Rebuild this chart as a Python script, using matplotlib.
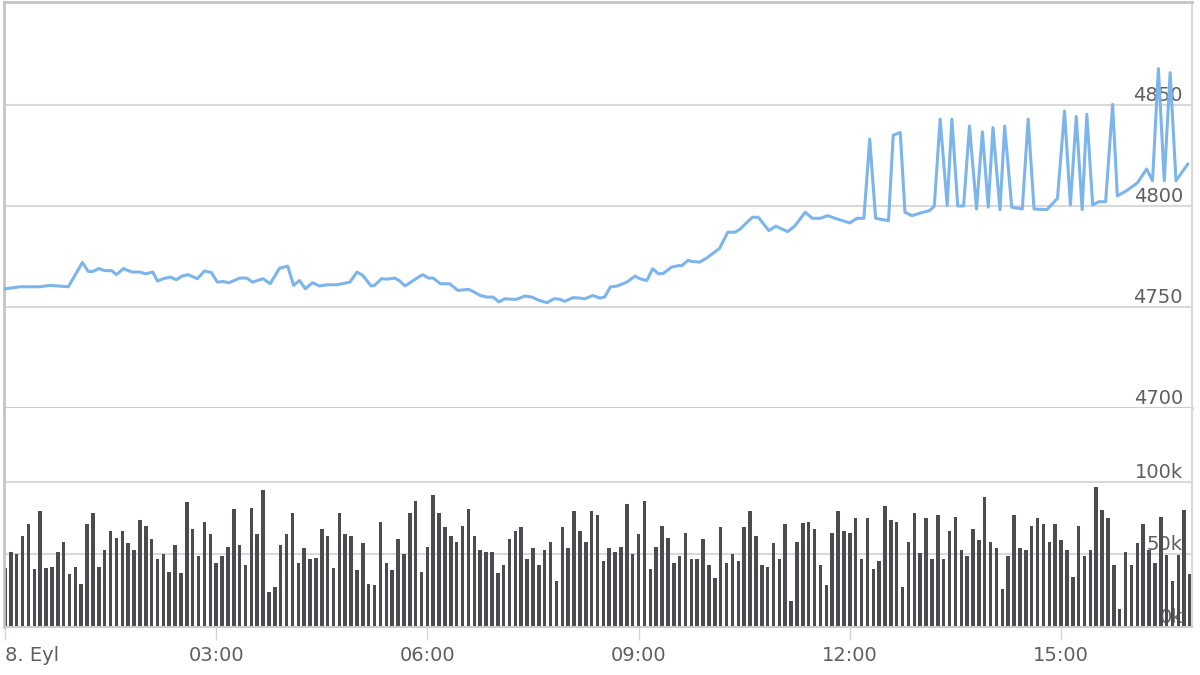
import numpy as np
import matplotlib.pyplot as plt

# price line: minutes after midnight and price
price_t = [0, 13, 30, 38, 54, 66, 71, 75, 80, 85,
           91, 95, 101, 108, 115, 120, 126, 130, 135, 141,
           146, 151, 156, 164, 170, 176, 181, 186, 191, 200,
           206, 211, 220, 226, 234, 241, 246, 251, 256, 262,
           268, 275, 283, 294, 300, 305, 312, 315, 321, 326,
           332, 336, 341, 348, 356, 361, 365, 371, 379, 386,
           395, 399, 405, 411, 416, 421, 426, 432, 436, 443,
           449, 455, 462, 468, 473, 477, 484, 490, 494, 501,
           507, 511, 516, 522, 530, 537, 541, 547, 552, 557,
           561, 568, 574, 577, 582, 586, 592, 598, 604, 609,
           616, 622, 626, 637, 642, 651, 657, 667, 673, 682,
           688, 695, 701, 709, 720, 726, 732, 737, 742, 753,
           757, 763, 767, 773, 780, 788, 792, 797, 803, 807,
           812, 817, 822, 828, 833, 838, 842, 848, 852, 858,
           867, 872, 877, 888, 897, 903, 908, 913, 918, 922,
           927, 932, 938, 944, 948, 956, 965, 973, 978, 983,
           988, 993, 998, 1008]
price_v = [4759, 4760, 4760, 4760.7, 4760, 4772, 4767.6, 4767.6, 4769, 4768,
           4768, 4766, 4769, 4767.3, 4767.3, 4766.4, 4767.3, 4762.8, 4764, 4764.8,
           4763.5, 4765.3, 4766, 4764, 4767.8, 4767, 4762.3, 4762.6, 4762, 4764.3,
           4764.3, 4762.3, 4764, 4761.5, 4769.2, 4770.2, 4760.7, 4763.1, 4759, 4762,
           4760.4, 4761, 4761, 4762.3, 4767.3, 4765.6, 4760.4, 4760.7, 4764, 4763.8,
           4764.3, 4763.1, 4760.4, 4763.1, 4766, 4764.3, 4764.3, 4761.5, 4761.5, 4758.2,
           4758.7, 4757.7, 4755.7, 4754.9, 4754.9, 4752.5, 4754.1, 4753.8, 4753.8, 4755.4,
           4754.9, 4753.3, 4752.1, 4754.1, 4753.8, 4752.8, 4754.6, 4754.4, 4754, 4755.7,
           4754.4, 4754.9, 4759.9, 4760.4, 4762.3, 4765.3, 4764, 4763.1, 4768.9, 4766.4,
           4766.6, 4769.7, 4770.5, 4770.5, 4773, 4772.5, 4772.2, 4774.2, 4776.8, 4779,
           4787, 4787, 4788.3, 4794.4, 4794.4, 4787.8, 4790, 4787.3, 4790, 4796.9,
           4793.9, 4793.9, 4795.2, 4793.6, 4791.6, 4793.9, 4793.9, 4833.1, 4793.9, 4792.7,
           4835, 4836.4, 4796.9, 4795.2, 4796.5, 4797.7, 4799.9, 4843, 4800.2, 4843,
           4800, 4800, 4839.6, 4798.5, 4836.7, 4799.4, 4838.8, 4798.2, 4839.6, 4799.4,
           4798.5, 4843, 4798.5, 4798.2, 4803.8, 4847, 4800.5, 4844.3, 4798.2, 4845.4,
           4800.5, 4802.1, 4802.1, 4850.3, 4805, 4807.6, 4811.4, 4818.3, 4812.5, 4868,
           4812.5, 4866, 4812.5, 4820.7]

# 5-minute volume (thousands)
volume_k = [40.5, 51.9, 50.3, 62.8, 71, 39.8, 80, 40.9, 41.6, 51.9,
            58.9, 36.6, 41.6, 29.7, 71, 78.9, 41.6, 53.1, 66.4, 61.2,
            66.4, 57.7, 53.1, 73.8, 69.7, 60.5, 46.7, 50.3, 38.2, 56.6,
            37, 86, 67.4, 49, 72.2, 64.1, 44.4, 49, 55.4, 81.2,
            56.6, 42.8, 82.3, 64.1, 94.5, 24.4, 27.4, 56.6, 64.1, 78.9,
            44.4, 54.3, 46.7, 47.8, 67.4, 62.8, 40.5, 78.9, 64.1, 62.8,
            39.3, 57.7, 29.7, 29, 72.2, 44.4, 39.3, 60.5,
            50.3, 78.9, 87.1, 38.2, 55.4, 91, 78.9, 68.7, 62.8, 58.9,
            69.7, 81.2, 62.8, 53.1, 51.9, 51.9, 37, 42.8, 60.5, 66.4,
            68.7, 46.7, 54.3, 42.8, 53.1, 58.9, 32, 68.7, 54.3, 80,
            66.4, 58.9, 80, 77.2, 45.7, 54.3, 51.9, 54.9, 84.8, 50.3,
            64.1, 87.1, 39.8, 55.4, 69.7, 61.2, 44.4, 49, 65.1, 46.7,
            46.7, 60.5, 42.8, 33.6, 68.7, 44.4, 50.3, 45.7, 68.7, 80,
            62.8, 42.8, 41.1, 57.7, 46.7, 71, 18.2, 58.9, 72,
            72.6, 67.4, 42.8, 29, 65.1, 80, 66.4, 65.1, 74.9, 46.7,
            74.9, 39.8, 45.7, 83.4, 73.8, 72.6, 27.4, 58.9, 78.9, 50.8,
            74.9, 46.7, 77.2, 46.7, 66.4, 76.1, 53.1, 49, 67.4, 60,
            89.9, 58.9, 54.3, 26, 49, 77.2, 54.3, 53.1, 69.7, 74.9,
            71, 58.9, 71, 60, 53.1, 34.3, 69.7, 49, 53.1, 96.8,
            80.7, 74.9, 42.8, 12.2, 51.9, 42.8, 57.7, 71, 53.1, 44.4,
            76.1, 49.7, 32, 49.7, 80.7, 36.6]

tick_hours = [0, 3, 6, 9, 12, 15]
tick_labels = ['8. Eyl', '03:00', '06:00', '09:00', '12:00', '15:00']
price_ticks = [4700, 4750, 4800, 4850]
volume_ticks = [0, 50, 100]
volume_labels = ['0k', '50k', '100k']

text_col = '#5f5f5f'
grid_col = '#d9d9d9'

fig = plt.figure(figsize=(12, 6.75), dpi=100)
ax1 = fig.add_axes([0.0033, 0.3956, 0.99, 0.6015])
ax2 = fig.add_axes([0.0033, 0.0711, 0.99, 0.3245], sharex=ax1)

# price pane
ax1.plot(np.array(price_t) / 60, price_v, color='#7cb5ec', lw=2.2,
         solid_joinstyle='round', zorder=3)
ax1.set_ylim(4700, 4901)
ax1.set_yticks(price_ticks)

# volume pane
bar_x = np.arange(len(volume_k)) * 5 / 60
ax2.bar(bar_x, volume_k, width=3.0 / 60, color='#4b4b51', zorder=2)
ax2.set_ylim(0, 151)
ax2.set_yticks(volume_ticks, volume_labels)

ax2.set_xlim(-0.014, 16.86)
ax2.set_xticks(tick_hours, tick_labels)

for ax in (ax1, ax2):
    ax.set_axisbelow(True)
    ax.grid(axis='y', color=grid_col, lw=1.5)
    ax.yaxis.tick_right()
    ax.tick_params(axis='y', length=0, pad=-6.5, labelsize=14,
                   labelcolor=text_col)
    for lab in ax.get_yticklabels():
        lab.set_ha('right')
        lab.set_va('bottom')
    ax.spines['left'].set_color('#c4c4c4')
    ax.spines['left'].set_linewidth(2)
    ax.spines['right'].set_color(grid_col)
    ax.spines['right'].set_linewidth(1.5)

ax1.spines['top'].set_color('#c4c4c4')
ax1.spines['top'].set_linewidth(2)
ax1.spines['bottom'].set_color('#cccccc')
ax1.spines['bottom'].set_linewidth(2)
ax1.tick_params(axis='x', bottom=False, labelbottom=False)

ax2.spines['top'].set_visible(False)
ax2.spines['bottom'].set_color('#cccccc')
ax2.spines['bottom'].set_linewidth(1.5)
ax2.tick_params(axis='x', length=9, width=1, color='#ccd6eb', pad=5,
                labelsize=14, labelcolor=text_col)
ax2.get_xticklabels()[0].set_ha('left')

fig.savefig('out.png', dpi=100)
